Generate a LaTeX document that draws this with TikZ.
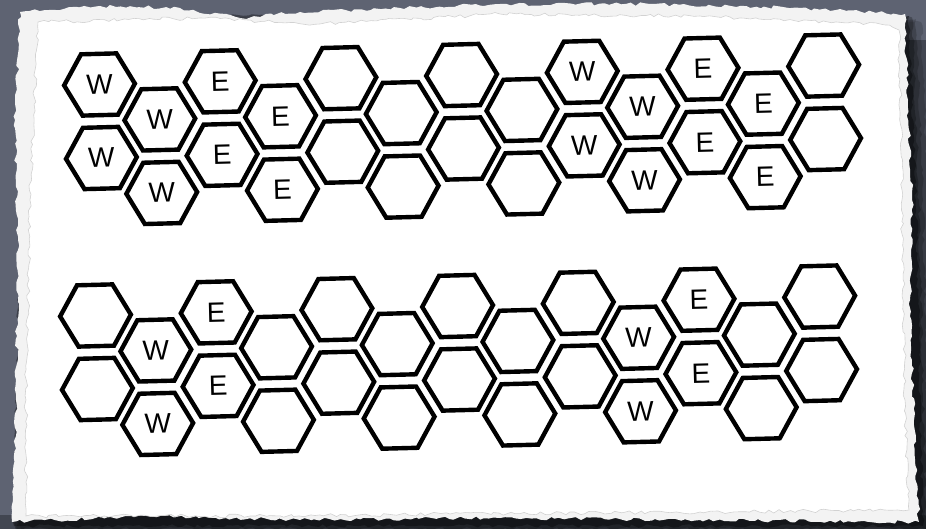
\documentclass[tikz,border=0pt]{standalone}
\usepackage{fontspec}
\setmainfont{Liberation Sans}
\usetikzlibrary{shapes.geometric,decorations.pathmorphing}
\definecolor{bgcol}{HTML}{5E6372}
\definecolor{bgdark}{HTML}{30333B}
\definecolor{fringe}{HTML}{F3F3F3}
\tikzset{
  hexcell/.style={regular polygon, regular polygon sides=6, draw=black,
    line width=2.2pt, fill=white, inner sep=0pt, outer sep=0pt,
    minimum size=35.4pt, rotate=1.5,
    font=\fontsize{14}{15}\selectfont},
  torn/.style={decorate, decoration={random steps, segment length=2.5pt, amplitude=0.9pt}},
}
\begin{document}
\begin{tikzpicture}[x=0.5pt,y=-0.5pt]
\pgfmathsetseed{7}
\useasboundingbox (0,0) rectangle (926,529);
% background
\fill[bgcol] (0,0) rectangle (926,529);
\fill[bgdark, opacity=0.6] (900,40) rectangle (926,529);
\fill[bgdark, opacity=0.6] (0,515) rectangle (926,529);
% shadow of the paper
\foreach \d/\o in {16/0.15,11/0.2,7/0.25,4/0.35} {
  \fill[black, opacity=\o, torn]
    (22+\d/3,12+\d) -- (905+\d,14+\d/2) -- (912+\d,200) -- (919+\d,522+\d) -- (12+\d/2,522+\d) -- cycle;
}
% paper
\fill[fringe, torn] (20,12) -- (100,6) -- (180,8) -- (240,18) -- (300,12) -- (400,8)
  -- (500,4) -- (650,4) -- (800,8) -- (905,14) -- (908,100) -- (912,200)
  -- (910,300) -- (914,420) -- (919,522) -- (700,520) -- (500,518) -- (300,520)
  -- (150,516) -- (12,522) -- (16,400) -- (18,250) -- (15,120) -- cycle;
\filldraw[fill=white, draw=gray!35, line width=0.3pt, torn]
  (38,22) -- (200,18) -- (320,24) -- (500,14) -- (700,16) -- (880,24)
  -- (899,30) -- (902,200) -- (905,400) -- (909,510) -- (700,512) -- (450,514)
  -- (250,516) -- (26,516) -- (26,400) -- (30,200) -- cycle;
% group 1
\foreach \i/\lab in {0/W,1/W,2/E,3/E,4/{},5/{},6/{},7/{},8/W,9/W,10/E,11/E,12/{}} {
  \foreach \r in {0,1} {
    \pgfmathsetmacro{\hx}{99.5+60.35*\i+1.9*\r}
    \pgfmathsetmacro{\hy}{84.5-1.58*\i+73.5*\r+36.5*mod(\i,2)}
    \node[hexcell] (a\i r\r) at (\hx,\hy) {\lab};
  }
}
% group 2
\foreach \i/\lab in {0/{},1/W,2/E,3/{},4/{},5/{},6/{},7/{},8/{},9/W,10/E,11/{},12/{}} {
  \foreach \r in {0,1} {
    \pgfmathsetmacro{\hx}{95.5+60.35*\i+1.9*\r}
    \pgfmathsetmacro{\hy}{315.5-1.58*\i+73.5*\r+36.5*mod(\i,2)}
    \node[hexcell] (b\i r\r) at (\hx,\hy) {\lab};
  }
}
\end{tikzpicture}
\end{document}
